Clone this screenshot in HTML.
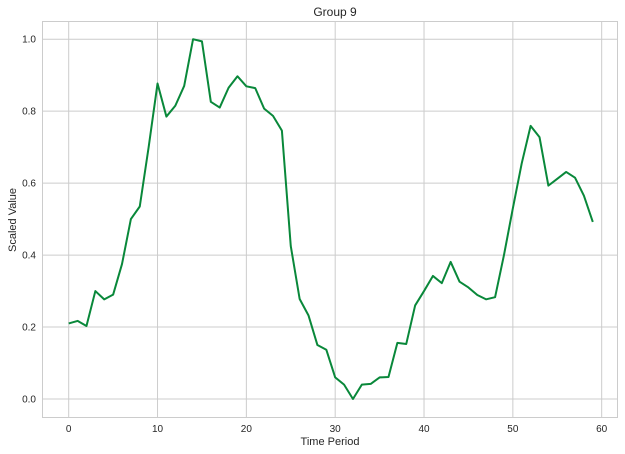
<!DOCTYPE html>
<html><head><meta charset="utf-8"><style>
body{margin:0;background:#fff;}
svg{display:block;font-family:"Liberation Sans",Arial,sans-serif;}
</style></head><body>
<svg id="chart" width="625" height="454">
<text x="335" y="16" font-size="12" text-anchor="middle" fill="#262626">Group 9</text>
<g id="grid"></g>
<rect x="42.5" y="21.5" width="575" height="396" fill="none" stroke="#cccccc" stroke-width="1"/>
<g id="ticks"></g>
<path id="line" fill="none" stroke="#09883a" stroke-width="2" stroke-linejoin="round"/>
<text x="330" y="445" font-size="11" text-anchor="middle" fill="#262626">Time Period</text>
<text transform="translate(16,220) rotate(-90)" font-size="11" text-anchor="middle" fill="#262626">Scaled Value</text>
</svg>
<script>
const periods = Array.from({length:60},(_,i)=>i);
const values = [0.21,0.217,0.203,0.30,0.277,0.29,0.375,0.50,0.535,0.70,0.877,0.785,0.815,0.87,1.0,0.994,0.826,0.81,0.865,0.897,0.869,0.864,0.807,0.787,0.746,0.425,0.278,0.232,0.15,0.137,0.06,0.04,0.0,0.04,0.042,0.06,0.061,0.156,0.153,0.26,0.30,0.342,0.322,0.381,0.326,0.31,0.289,0.277,0.283,0.40,0.53,0.655,0.759,0.728,0.593,0.612,0.631,0.615,0.565,0.492];
const xTicks = [0,10,20,30,40,50,60];
const yTicks = [0.0,0.2,0.4,0.6,0.8,1.0];
const xs = v => 68.7 + v*8.883;
const ys = v => 399 - v*359.8;
const NS="http://www.w3.org/2000/svg";
const grid=document.getElementById('grid'), ticks=document.getElementById('ticks');
xTicks.forEach(t=>{
  const l=document.createElementNS(NS,'line');
  l.setAttribute('x1',xs(t));l.setAttribute('x2',xs(t));l.setAttribute('y1',21.5);l.setAttribute('y2',417.5);
  l.setAttribute('stroke','#cccccc');
  
  
  grid.appendChild(l);
  const tx=document.createElementNS(NS,'text');
  tx.setAttribute('x',xs(t));tx.setAttribute('y',432);tx.setAttribute('font-size','10');tx.setAttribute('text-anchor','middle');tx.setAttribute('fill','#262626');
  tx.textContent=t;
  
  
  ticks.appendChild(tx);
});
yTicks.forEach(t=>{
  const l=document.createElementNS(NS,'line');
  l.setAttribute('y1',ys(t));l.setAttribute('y2',ys(t));l.setAttribute('x1',42.5);l.setAttribute('x2',617.5);
  l.setAttribute('stroke','#cccccc');
  
  
  grid.appendChild(l);
  const tx=document.createElementNS(NS,'text');
  tx.setAttribute('x',36);tx.setAttribute('y',ys(t)+3.5);tx.setAttribute('font-size','10');tx.setAttribute('text-anchor','end');tx.setAttribute('fill','#262626');
  tx.textContent=t.toFixed(1);
  
  
  ticks.appendChild(tx);
});
document.getElementById('line').setAttribute('d',values.map((v,i)=>(i?'L':'M')+xs(periods[i]).toFixed(2)+','+ys(v).toFixed(2)).join(''));
</script>
</body></html>
